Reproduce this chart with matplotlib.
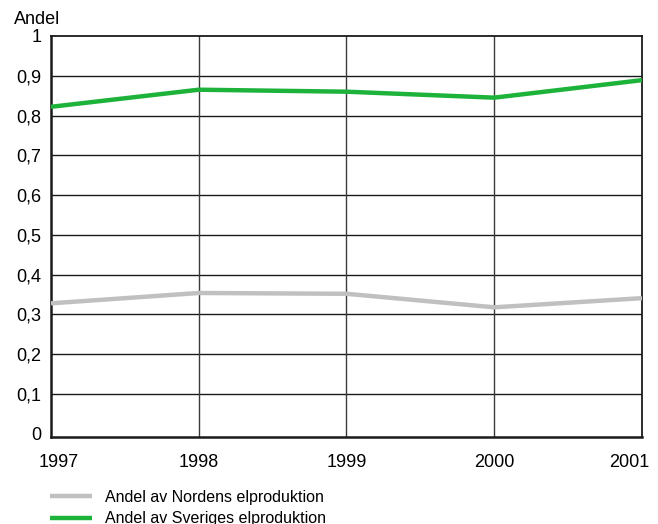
import matplotlib
matplotlib.use("Agg")
import matplotlib.pyplot as plt
import matplotlib.transforms as mtransforms

years = [1997, 1998, 1999, 2000, 2001]
norden = [0.328, 0.354, 0.352, 0.318, 0.341]
sverige = [0.822, 0.865, 0.860, 0.845, 0.889]
yticks = [0, 0.1, 0.2, 0.3, 0.4, 0.5, 0.6, 0.7, 0.8, 0.9, 1]
ytick_labels = ["0", "0,1", "0,2", "0,3", "0,4", "0,5", "0,6", "0,7", "0,8", "0,9", "1"]

plt.rcParams['font.family'] = ['Liberation Sans', 'DejaVu Sans']

fig = plt.figure(figsize=(6.58, 5.24), dpi=100)
ax = fig.add_axes([0.0775, 1 - 437 / 524, (642 - 51) / 658, (437 - 36) / 524])

ax.set_xlim(1997, 2001)
ax.set_ylim(-0.008, 1.0)

for y in yticks[1:-1]:
    ax.axhline(y, color="#1a1a1a", lw=1.0, zorder=1)
for x in years[1:-1]:
    ax.axvline(x, color="#3a3a3a", lw=1.0, zorder=1)

ax.plot(years, norden, color="#c0c0c0", lw=3.2, solid_capstyle="butt",
        label="Andel av Nordens elproduktion", zorder=3)
ax.plot(years, sverige, color="#1db33b", lw=3.2, solid_capstyle="butt",
        label="Andel av Sveriges elproduktion", zorder=3)

ax.set_yticks(yticks)
ax.set_yticklabels(ytick_labels)
ax.set_xticks(years)
ax.set_xticklabels([str(y) for y in years])
ax.tick_params(length=0, labelsize=13)
ax.tick_params(axis='x', pad=12.5)
ax.tick_params(axis='y', pad=7)

xlabels = ax.get_xticklabels()
xlabels[0].set_transform(xlabels[0].get_transform() +
                         mtransforms.ScaledTranslation(8 / 100, 0, fig.dpi_scale_trans))
xlabels[-1].set_transform(xlabels[-1].get_transform() +
                          mtransforms.ScaledTranslation(-13 / 100, 0, fig.dpi_scale_trans))

for s in ax.spines.values():
    s.set_color("#1a1a1a")
    s.set_linewidth(1.3)
ax.spines['left'].set_linewidth(1.8)
ax.spines['bottom'].set_linewidth(1.8)

fig.text(14 / 658, 1 - 19 / 524, "Andel", fontsize=13, ha="left", va="center")

leg = fig.legend(loc="center left", bbox_to_anchor=(50 / 658, 1 - 508 / 524), frameon=False,
                 fontsize=11.5, handlelength=2.6, handletextpad=0.85, labelspacing=0.4,
                 borderaxespad=0, borderpad=0)

fig.savefig("out.png", dpi=100)
